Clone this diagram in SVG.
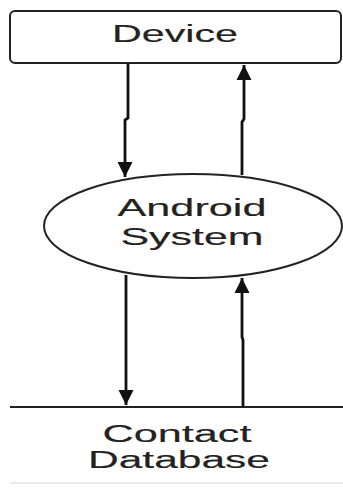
<svg xmlns="http://www.w3.org/2000/svg" width="343" height="494" viewBox="0 0 343 494">
<style>
.lbl{font-family:"Liberation Sans",Arial,sans-serif;font-size:23px;fill:#222;stroke:#222;stroke-width:0.15;text-anchor:middle}
.shape{fill:#fff;stroke:#222;stroke-width:2}
.edge{fill:none;stroke:#111;stroke-width:2.8}
</style>
<defs>
<marker id="ah" viewBox="0 0 10 10" refX="10" refY="5" markerWidth="5.4" markerHeight="5.4" orient="auto" markerUnits="strokeWidth">
<path d="M0,0 L10,5 L0,10 Z" fill="#111"/>
</marker>
</defs>
<rect width="343" height="494" fill="#fff"/>
<g id="device">
<rect class="shape" x="10" y="11" width="331" height="52" rx="5"/>
<text class="lbl" x="175" y="42" textLength="126" lengthAdjust="spacingAndGlyphs">Device</text>
</g>
<g id="android">
<ellipse class="shape" cx="193" cy="226" rx="149" ry="52"/>
<text class="lbl" x="192" y="216" textLength="149" lengthAdjust="spacingAndGlyphs">Android</text>
<text class="lbl" x="192" y="245" textLength="143" lengthAdjust="spacingAndGlyphs">System</text>
</g>
<g id="contactdb">
<line x1="10" y1="407" x2="343" y2="407" stroke="#222" stroke-width="2"/>
<line x1="10" y1="483" x2="343" y2="483" stroke="#e2e2e2" stroke-width="1.5"/>
<text class="lbl" x="177" y="442" textLength="149" lengthAdjust="spacingAndGlyphs">Contact</text>
<text class="lbl" x="179" y="468" textLength="182" lengthAdjust="spacingAndGlyphs">Database</text>
</g>
<g id="connectors">
<path class="edge" d="M128,63 L128,118 L125,120 L125,177" marker-end="url(#ah)"/>
<path class="edge" d="M242,175 L242,122 L244,119 L244,65" marker-end="url(#ah)"/>
<path class="edge" d="M126,275 L126,405" marker-end="url(#ah)"/>
<path class="edge" d="M243,407 L243,340 L242,337 L242,278" marker-end="url(#ah)"/>
</g>
</svg>
